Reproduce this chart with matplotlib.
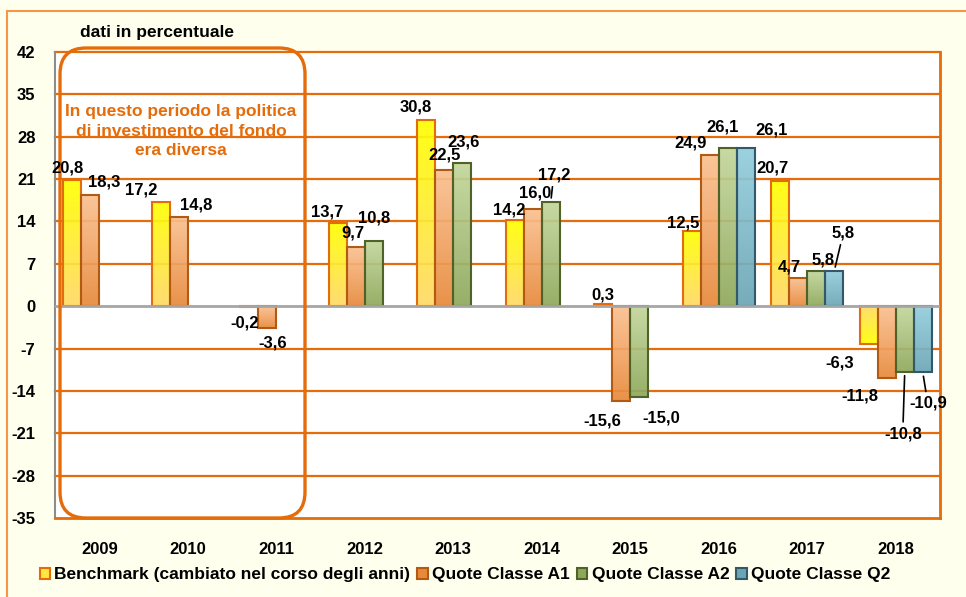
import numpy as np
import matplotlib
matplotlib.use('Agg')
import matplotlib.pyplot as plt
from matplotlib.patches import FancyBboxPatch, Patch, Rectangle
from matplotlib.colors import to_rgb
from matplotlib.transforms import Affine2D

nan = np.nan
years = ['2009', '2010', '2011', '2012', '2013', '2014', '2015', '2016', '2017', '2018']
benchmark = [20.8, 17.2, -0.2, 13.7, 30.8, 14.2, 0.3, 12.5, 20.7, -6.3]
classe_a1 = [18.3, 14.8, -3.6, 9.7, 22.5, 16.0, -15.6, 24.9, 4.7, -11.8]
classe_a2 = [nan, nan, nan, 10.8, 23.6, 17.2, -15.0, 26.1, 5.8, -10.8]
classe_q2 = [nan, nan, nan, nan, nan, nan, nan, 26.1, 5.8, -10.9]
series_names = ['Benchmark (cambiato nel corso degli anni)', 'Quote Classe A1',
                'Quote Classe A2', 'Quote Classe Q2']
y_ticks = list(range(-35, 43, 7))

# label offsets in pixels (dx, dy) relative to bar end, and leader flags
offsets = [
    [(-5, 12), (-20, 12), (-5, -16), (-11, 11), (-10, 13), (-6, 10), (0, 9), (-9, 8), (-8, 13), (-29, -19)],
    [(14, 13), (17, 12), (5, -15), (-3, 14), (0, 15), (2, 16), (-19, -20), (-19, 12), (-9, 11), (-27, -18)],
    [None, None, None, (0, 23), (1, 21), (3, 27), (22, -21), (-5, 21), (7, 11), (-2, -62)],
    [None, None, None, None, None, None, None, (26, 18), (9, 38), (5, -31)],
]
leaders = [
    [False] * 10,
    [False] * 10,
    [False, False, False, False, False, True, False, False, False, True],
    [False, False, False, False, False, False, False, False, True, True],
]

FONT = ['Liberation Sans', 'DejaVu Sans']
plt.rcParams['font.family'] = FONT
plt.rcParams['font.weight'] = 'bold'

ORANGE = '#E46C0A'
# (color at bar end / top, color at base / bottom, edge)
styles = [
    ('#FFFF00', '#FFD966', '#E46C0A', 'end'),
    ('#FAC090', '#E8893A', '#B35A12', 'top'),
    ('#C3D69B', '#8EA85B', '#4F6228', 'top'),
    ('#93CDDD', '#6BA5B5', '#31596A', 'top'),
]

W, H = 966, 597
fig = plt.figure(figsize=(W / 100, H / 100), dpi=100, facecolor='#FFFFEE')
ax = fig.add_axes([55 / W, 79 / H, 885 / W, 466 / H])
ax.set_facecolor('white')

series = [benchmark, classe_a1, classe_a2, classe_q2]
x = np.arange(len(years))
bw = 0.2034

for t in y_ticks:
    if t not in (0, -35):
        ax.axhline(t, color=ORANGE, lw=1.6, zorder=1, clip_on=False)

N = 64
for k, vals in enumerate(series):
    c1, c2, ec, mode = styles[k]
    xs = x + (k - 1.5) * bw
    bars = ax.bar(xs, vals, width=bw, facecolor='none', edgecolor=ec, lw=1.5, zorder=3)
    for i, rect in enumerate(bars):
        v = vals[i]
        if np.isnan(v):
            continue
        x0 = rect.get_x()
        y_lo, y_hi = min(0, v), max(0, v)
        a, b = np.array(to_rgb(c1)), np.array(to_rgb(c2))
        t = np.linspace(0, 1, N)[:, None]  # 0 bottom -> 1 top
        if mode == 'end' and v < 0:
            grad = a * (1 - t) + b * t
        else:
            grad = b * (1 - t) + a * t
        img = grad[:, None, :]
        im = ax.imshow(img, extent=[x0, x0 + bw, y_lo, y_hi], origin='lower',
                       aspect='auto', zorder=2, alpha=0.92, interpolation='bilinear')
        im.set_clip_path(rect)
        # label
        off = offsets[k][i]
        lab = f"{v:.1f}".replace('.', ',')
        kw = {}
        if leaders[k][i]:
            kw['arrowprops'] = dict(arrowstyle='-', color='black', lw=1.2,
                                    shrinkA=1, shrinkB=3)
        ax.annotate(lab, xy=(xs[i], v), xytext=off, textcoords='offset pixels',
                    ha='center', va='center', fontsize=12, fontweight='bold',
                    color='black', zorder=6, **kw)

ax.axhline(0, color='#A6A6A6', lw=2, zorder=4)
ax.set_xlim(-0.5, len(years) - 0.5)
ax.set_ylim(-35, 42)
ax.set_yticks(y_ticks)
ax.set_yticklabels([str(t) for t in y_ticks], fontsize=12, fontweight='bold')
ax.set_xticks(x)
ax.set_xticklabels(years, fontsize=12, fontweight='bold')
ax.tick_params(axis='y', length=0, pad=14)
ax.tick_params(axis='x', length=0, pad=17)

ax.spines['top'].set_visible(False)
ax.spines['left'].set_color('#8C8C8C')
ax.spines['left'].set_linewidth(1.5)
ax.spines['right'].set_color(ORANGE)
ax.spines['right'].set_linewidth(2)
ax.spines['bottom'].set_color(ORANGE)
ax.spines['bottom'].set_linewidth(2)

# pixel transform (figure pixels, origin bottom-left)
ptrans = Affine2D().scale(1 / W, 1 / H) + fig.transFigure

box = FancyBboxPatch((60, H - 518), 245, 470, boxstyle='round,pad=0,rounding_size=26',
                     facecolor='none', edgecolor=ORANGE, lw=2.4, transform=ptrans,
                     zorder=5, clip_on=False)
ax.add_artist(box)

fig.text(181 / W, 1 - 131 / H, 'In questo periodo la politica\ndi investimento del fondo\nera diversa',
         ha='center', va='center', color=ORANGE, fontsize=12.5, fontweight='bold',
         linespacing=1.35)
fig.text(157 / W, 1 - 33 / H, 'dati in percentuale', ha='center', va='center',
         fontsize=12.5, fontweight='bold', color='black')

# outer border
border = Rectangle((7, -20), 990, H - 11 + 20, facecolor='none', edgecolor='#F79646',
                   lw=1.5, transform=ptrans, clip_on=False)
fig.add_artist(border)

handles = [Patch(facecolor=s[1], edgecolor=s[2], lw=1.5) for s in styles]
handles[0] = Patch(facecolor='#FFE640', edgecolor=ORANGE, lw=1.5)
fig.legend(handles, series_names, loc='center', bbox_to_anchor=(465 / W, 1 - 575 / H),
           ncol=4, frameon=False, handlelength=0.6, handleheight=0.6,
           handletextpad=0.25, columnspacing=0.4, prop={'size': 12.5, 'weight': 'bold'})

fig.savefig('out.png', dpi=100, facecolor=fig.get_facecolor())
